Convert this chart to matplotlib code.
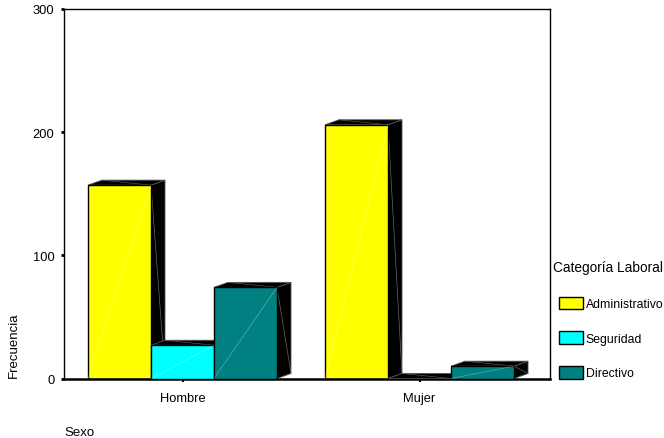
import matplotlib
matplotlib.use('Agg')
import matplotlib.pyplot as plt
from matplotlib.patches import Polygon, Rectangle, Patch

plt.rcParams['font.family'] = ['Liberation Sans', 'DejaVu Sans']

# frequency table: sexo x categoria laboral
sexo = ['Hombre', 'Mujer']
categorias = ['Administrativo', 'Seguridad', 'Directivo']
administrativo = [157, 206]
seguridad = [27, 0]
directivo = [74, 10]
colores = ['#ffff00', '#00ffff', '#008080']

series = [administrativo, seguridad, directivo]

fig = plt.figure(figsize=(6.64, 4.39), dpi=100)
ax = fig.add_axes([64/664, 1-379.5/439, 486/664, 369.5/439])

ancho = 63/237.0
# depth of the fake 3d boxes, in data units (14 px right, 5 px up)
dx = 14/237.0
dy = 5/1.2317

for i in range(len(sexo)):
    x0 = i - 1.5*ancho
    for j in range(len(categorias)):
        h = series[j][i]
        a = x0 + j*ancho
        b = a + ancho
        lado = Polygon([(b, 0), (b+dx, dy), (b+dx, h+dy), (b, h)], closed=True,
                       facecolor='black', edgecolor='#555555', lw=0.6, zorder=2+j)
        tapa = Polygon([(a, h), (a+dx, h+dy), (b+dx, h+dy), (b, h)], closed=True,
                       facecolor='black', edgecolor='#555555', lw=0.6, zorder=2+j)
        ax.add_patch(lado)
        ax.add_patch(tapa)
        ax.plot([b, b+dx], [h, dy], color='#666666', lw=0.5, zorder=2+j)
        ax.plot([a+dx, b], [h+dy, h], color='#666666', lw=0.4, zorder=2+j)
        frente = Rectangle((a, 0), ancho, h, facecolor=colores[j],
                           edgecolor='black', lw=1.0, zorder=2.5+j)
        ax.add_patch(frente)
        if h > 0:
            ax.plot([a, b], [0, h], color='white', alpha=0.35, lw=0.5, zorder=2.6+j)

ax.set_xlim(-0.5, 1.5506)
ax.set_ylim(0, 300)
ax.set_yticks([0, 100, 200, 300])
ax.set_xticks([0, 1])
ax.set_xticklabels(sexo)
ax.tick_params(axis='y', length=2, width=2, pad=5, labelsize=9.3)
ax.tick_params(axis='x', length=2, width=1.5, pad=8, labelsize=9.3)
for s in ['left', 'top', 'right']:
    ax.spines[s].set_linewidth(1.0)
ax.spines['bottom'].set_linewidth(1.8)

fig.text(14/664, 1-378/439, 'Frecuencia', rotation=90, va='bottom', ha='center', fontsize=9.5)
fig.text(64/664, 1-433/439, 'Sexo', va='center', ha='left', fontsize=9.5)

fig.text(553/664, 1-268/439, 'Categoría Laboral', va='center', ha='left', fontsize=9.8)
handles = [Patch(facecolor=c, edgecolor='black', lw=1.0) for c in colores]
leg = fig.legend(handles, categorias, loc='upper left',
                 bbox_to_anchor=(559/664, 1-297.5/439), frameon=False, fontsize=8.8,
                 borderpad=0, borderaxespad=0,
                 handlelength=1.95, handleheight=1.2, handletextpad=0.25,
                 labelspacing=1.75)

fig.savefig('out.png', dpi=100)
